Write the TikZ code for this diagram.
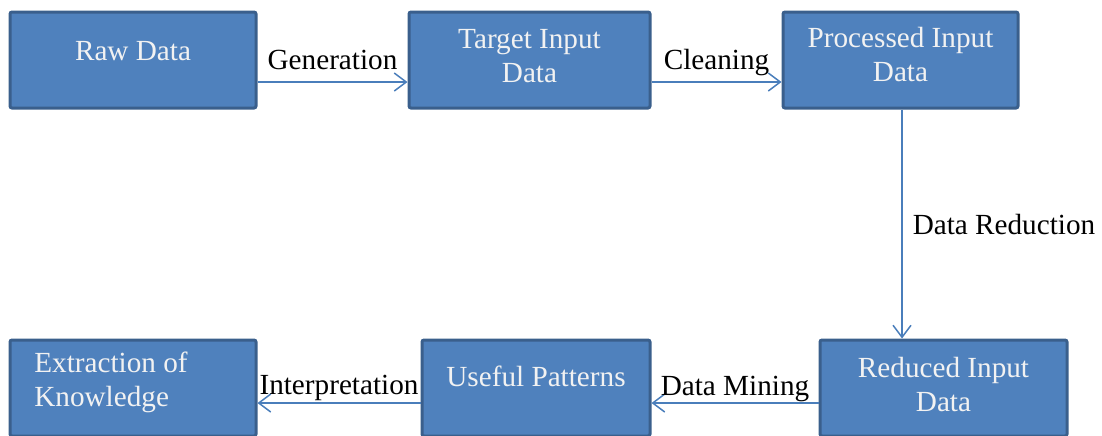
\documentclass[tikz,border=0pt]{standalone}
\usepackage{fontspec}
\setmainfont{Liberation Serif}
\usepackage{tikz}
\usetikzlibrary{arrows.meta, positioning}
\definecolor{boxfill}{HTML}{4F81BD}
\definecolor{boxline}{HTML}{3A5F8C}
\definecolor{flowline}{HTML}{4A7EBB}
\definecolor{boxtextcol}{HTML}{F2F2F2}
\tikzset{%
	block/.style={
		rectangle,
		draw=boxline,
		fill=boxfill,
		line width=1.5pt,
		rounded corners=1pt,
		minimum height=48pt
	},
	boxtext/.style={
		text=boxtextcol,
		align=center,
		inner sep=0pt
	},
	flow/.style={
		draw=flowline,
		line width=0.75pt,
		-{Straight Barb[length=6pt, width=9pt, line width=0.75pt]}
	},
	steplabel/.style={
		text=black,
		text depth=3pt,
		inner sep=1pt
	},
}

\begin{document}
\begin{tikzpicture}[
				x=0.5pt, y=-0.5pt,
				font=\fontsize{14.6pt}{17pt}\selectfont
				]
				\useasboundingbox (0,0) rectangle (1102,435);
				
				% top row
				\node[block, minimum width=123pt,
					label={[boxtext, yshift=4.25pt]center:Raw Data}] (raw) at (133,60) {};
				\node[block, minimum width=120.5pt,
					label={[boxtext, yshift=2pt]center:Target Input\\Data}] (target) at (529.5,60) {};
				\node[block, minimum width=117.5pt,
					label={[boxtext, yshift=2.5pt]center:Processed Input\\Data}] (proc) at (900.5,60) {};
				
				% bottom row
				\node[block, minimum width=123.5pt,
					label={[boxtext, yshift=2pt]center:Reduced Input\\Data}] (reduced) at (943.5,388) {};
				\node[block, minimum width=114pt,
					label={[boxtext, yshift=6pt]center:Useful Patterns}] (useful) at (536,388) {};
				\node[block, minimum width=123pt,
					label={[boxtext, align=left, xshift=-11pt, yshift=3pt]center:Extraction of\\Knowledge}] (extract) at (133,388) {};
				
				\draw[flow] ([yshift=-11pt]raw.east) -- node[steplabel, above, inner sep=3pt] {Generation} ([yshift=-11pt]target.west);
				\draw[flow] ([yshift=-11pt]target.east) -- node[steplabel, above, inner sep=3pt] {Cleaning} ([yshift=-11pt]proc.west);
				\draw[flow] ([xshift=0.75pt]proc.south) -- node[steplabel, right, text depth=0pt, inner sep=5pt] {Data Reduction} ([xshift=0.75pt]proc.south |- reduced.north);
				\draw[flow] ([yshift=-7.5pt]reduced.west) -- node[steplabel, above, inner sep=0.5pt] {Data Mining} ([yshift=-7.5pt]useful.east);
				\draw[flow] ([yshift=-7.5pt]useful.west) -- node[steplabel, above] {Interpretation} ([yshift=-7.5pt]extract.east);
				
			\end{tikzpicture}
\end{document}
